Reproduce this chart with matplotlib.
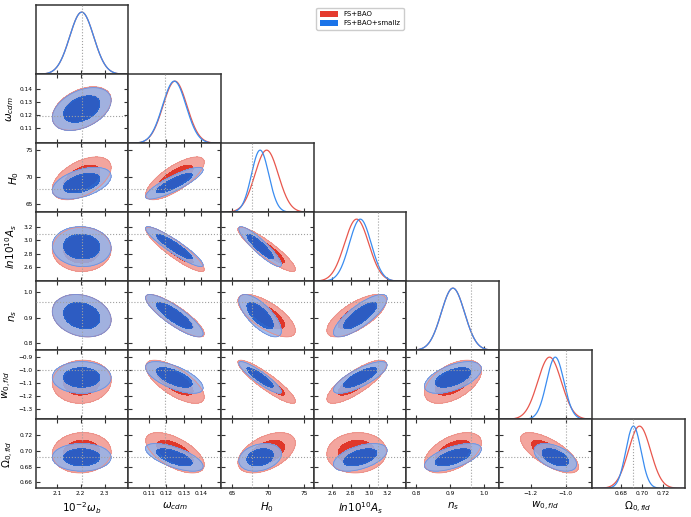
import numpy as np
import matplotlib
matplotlib.use('Agg')
import matplotlib.pyplot as plt
from matplotlib.patches import Patch

# ---------------- data ----------------
param_labels = [r'$10^{-2}\omega_b$', r'$\omega_{cdm}$', r'$H_0$', r'$ln10^{10}A_s$',
                r'$n_s$', r'$w_{0,fld}$', r'$\Omega_{0,fld}$']
truth = [2.207, 0.1195, 67.8, 3.094, 0.962, -1.0, 0.692]
limits = [(2.012, 2.398), (0.0984, 0.1512), (63.5, 76.3), (2.395, 3.41),
          (0.772, 1.043), (-1.383, -0.85), (0.6525, 0.7405)]
xticks = [[2.1, 2.2, 2.3], [0.11, 0.12, 0.13, 0.14], [65, 70, 75], [2.6, 2.8, 3.0, 3.2],
          [0.8, 0.9, 1.0], [-1.2, -1.0], [0.68, 0.70, 0.72]]
yticks = [[2.1, 2.2, 2.3], [0.11, 0.12, 0.13, 0.14], [65, 70, 75], [2.6, 2.8, 3.0, 3.2],
          [0.8, 0.9, 1.0], [-1.3, -1.2, -1.1, -1.0, -0.9], [0.66, 0.68, 0.70, 0.72]]
tick_fmt = ['%.1f', '%.2f', '%d', '%.1f', '%.1f', '%.1f', '%.2f']

series_names = ['FS+BAO', 'FS+BAO+smallz']
mean_red = [2.204, 0.1250, 69.8, 2.865, 0.908, -1.093, 0.6978]
sigma_red = [0.050, 0.0068, 1.62, 0.133, 0.034, 0.068, 0.0105]
mean_blue = [2.204, 0.1246, 68.9, 2.905, 0.908, -1.060, 0.6920]
sigma_blue = [0.050, 0.0067, 1.20, 0.120, 0.034, 0.050, 0.0072]
corr_red = [
    [1.00, 0.40, 0.50, 0.00, -0.20, 0.05, 0.05],
    [0.40, 1.00, 0.75, -0.90, -0.85, -0.70, -0.60],
    [0.50, 0.75, 1.00, -0.90, -0.70, -0.90, 0.48],
    [0.00, -0.90, -0.90, 1.00, 0.70, 0.80, 0.05],
    [-0.20, -0.85, -0.70, 0.70, 1.00, 0.50, 0.50],
    [0.05, -0.70, -0.90, 0.80, 0.50, 1.00, -0.70],
    [0.05, -0.60, 0.48, 0.05, 0.50, -0.70, 1.00]]
corr_blue = [
    [1.00, 0.40, 0.45, -0.05, -0.20, 0.00, 0.00],
    [0.40, 1.00, 0.85, -0.92, -0.85, -0.65, -0.65],
    [0.45, 0.85, 1.00, -0.90, -0.72, -0.90, 0.25],
    [-0.05, -0.92, -0.90, 1.00, 0.80, 0.78, 0.50],
    [-0.20, -0.85, -0.72, 0.80, 1.00, 0.55, 0.60],
    [0.00, -0.65, -0.90, 0.78, 0.55, 1.00, -0.50],
    [0.00, -0.65, 0.25, 0.50, 0.60, -0.50, 1.00]]

# ---------------- style ----------------
red_light, red_dark, red_line = '#f3a59e', '#e0372a', '#e8574d'
blue_light, blue_dark, blue_line = '#94b4ea', '#1f60cf', '#3a8cf0'
spine_col = '#333333'
n = len(param_labels)

W, H = 691, 517
fig = plt.figure(figsize=(W / 100, H / 100), dpi=100)
left_px, top_px = 35.6, 5.3
cw, rh = 92.7, 69.0

lev68, lev95 = 2.2958, 5.9915


def fmt_ticks(vals, fmt):
    return [(fmt % v).replace('-', '\u2212') for v in vals]


def style_axes(ax):
    for s in ax.spines.values():
        s.set_color(spine_col)
        s.set_linewidth(1.1)
    ax.tick_params(direction='in', top=True, right=True, length=3, width=0.8,
                   labelsize=4.2, pad=2, color=spine_col)


for row in range(n):
    for col in range(row + 1):
        x0 = (left_px + col * cw) / W
        y0 = 1 - (top_px + (row + 1) * rh) / H
        ax = fig.add_axes([x0, y0, cw / W, rh / H])
        style_axes(ax)
        ax.set_xlim(limits[col])
        ax.set_xticks(xticks[col])
        if row == n - 1:
            ax.set_xticklabels(fmt_ticks(xticks[col], tick_fmt[col]))
            ax.set_xlabel(param_labels[col], fontsize=7.5, labelpad=3)
        else:
            ax.set_xticklabels([])
        if row == col:
            xs = np.linspace(limits[col][0], limits[col][1], 400)
            for mu, sg, c in [(mean_red, sigma_red, red_line), (mean_blue, sigma_blue, blue_line)]:
                ax.plot(xs, np.exp(-0.5 * ((xs - mu[col]) / sg[col]) ** 2), color=c, lw=0.9)
            ax.set_ylim(0, 1.11)
            ax.set_yticks([])
            ax.tick_params(left=False, right=False, top=False)
            ax.axvline(truth[col], color='#a0a0a0', lw=0.8, ls=':', zorder=5)
            continue
        # 2D panel
        ax.set_ylim(limits[row])
        ax.set_yticks(yticks[row])
        if col == 0:
            ax.set_yticklabels(fmt_ticks(yticks[row], tick_fmt[row]))
            ax.set_ylabel(param_labels[row], fontsize=7.5, labelpad=3)
        else:
            ax.set_yticklabels([])
        gx = np.linspace(limits[col][0], limits[col][1], 300)
        gy = np.linspace(limits[row][0], limits[row][1], 300)
        X, Y = np.meshgrid(gx, gy)
        for mu, sg, cr, cl, cd, ec, a_out, a_in in [
                (mean_red, sigma_red, corr_red, red_light, red_dark, '#ec8f86', 1.0, 1.0),
                (mean_blue, sigma_blue, corr_blue, blue_light, blue_dark, '#6f8fdc', 0.86, 0.93)]:
            rho = cr[row][col]
            dx = (X - mu[col]) / sg[col]
            dy = (Y - mu[row]) / sg[row]
            chi2 = (dx ** 2 - 2 * rho * dx * dy + dy ** 2) / (1 - rho ** 2)
            ax.contourf(X, Y, chi2, levels=[lev68, lev95], colors=[cl], alpha=a_out)
            ax.contourf(X, Y, chi2, levels=[0, lev68], colors=[cd], alpha=a_in)
            ax.contour(X, Y, chi2, levels=[lev95], colors=[ec], linewidths=0.6)
        ax.axvline(truth[col], color='#a0a0a0', lw=0.8, ls=':', zorder=5)
        ax.axhline(truth[row], color='#a0a0a0', lw=0.8, ls=':', zorder=5)

handles = [Patch(facecolor='#e53b2e', edgecolor='none', label=series_names[0]),
           Patch(facecolor='#1b74e9', edgecolor='none', label=series_names[1])]
fig.legend(handles=handles, loc='upper center', bbox_to_anchor=(0.521, 0.992),
           fontsize=5, frameon=True, handlelength=2.6, handleheight=0.9,
           borderpad=0.5, labelspacing=0.4, framealpha=1, edgecolor='#cccccc')

fig.savefig('out.png', dpi=100)
